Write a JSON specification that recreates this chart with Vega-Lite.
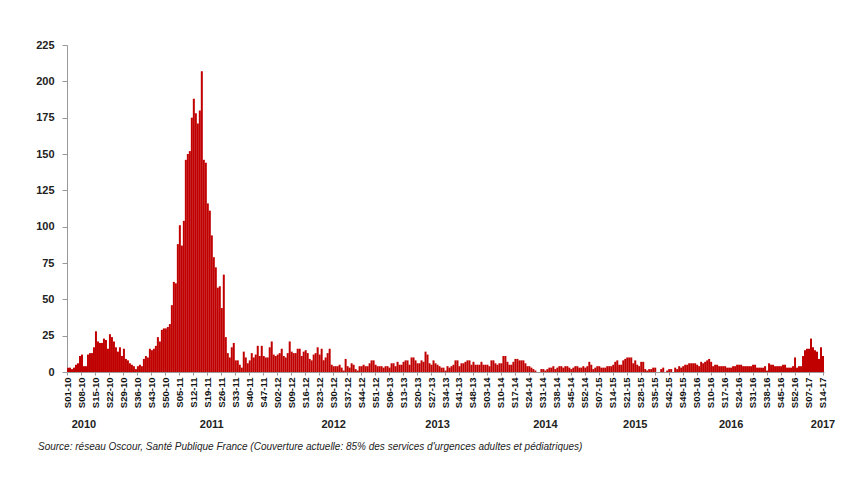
{
  "$schema": "https://vega.github.io/schema/vega-lite/v6.json",
  "autosize": "none",
  "width": 757,
  "height": 327,
  "padding": {"left": 67, "top": 45, "right": 33, "bottom": 122},
  "background": "white",
  "config": {"font": "Liberation Sans", "view": {"stroke": null}},
  "title": {
    "text": "Source: réseau Oscour, Santé Publique France (Couverture actuelle:  85% des services d'urgences adultes et pédiatriques)",
    "orient": "bottom", "anchor": "start", "frame": "group", "dx": -29, "offset": 12,
    "fontSize": 10, "fontStyle": "italic", "fontWeight": "normal", "color": "#222"
  },
  "data": {"values": [
    {"w":"S01-10","v":3},{"w":"S02-10","v":3},{"w":"S03-10","v":2},{"w":"S04-10","v":3},{"w":"S05-10","v":5},{"w":"S06-10","v":6},{"w":"S07-10","v":11},{"w":"S08-10","v":12},{"w":"S09-10","v":4,"yr":"2010"},{"w":"S10-10","v":4},
    {"w":"S11-10","v":12},{"w":"S12-10","v":13},{"w":"S13-10","v":13},{"w":"S14-10","v":17},{"w":"S15-10","v":28},{"w":"S16-10","v":21},{"w":"S17-10","v":20},{"w":"S18-10","v":20},{"w":"S19-10","v":23},{"w":"S20-10","v":22},
    {"w":"S21-10","v":16},{"w":"S22-10","v":26},{"w":"S23-10","v":24},{"w":"S24-10","v":21},{"w":"S25-10","v":17},{"w":"S26-10","v":14},{"w":"S27-10","v":17},{"w":"S28-10","v":11},{"w":"S29-10","v":16},{"w":"S30-10","v":9},
    {"w":"S31-10","v":8},{"w":"S32-10","v":6},{"w":"S33-10","v":5},{"w":"S34-10","v":4},{"w":"S35-10","v":2},{"w":"S36-10","v":4},{"w":"S37-10","v":5},{"w":"S38-10","v":4},{"w":"S39-10","v":9},{"w":"S40-10","v":11},
    {"w":"S41-10","v":10},{"w":"S42-10","v":16},{"w":"S43-10","v":15},{"w":"S44-10","v":16},{"w":"S45-10","v":18},{"w":"S46-10","v":24},{"w":"S47-10","v":21},{"w":"S48-10","v":29},{"w":"S49-10","v":30},{"w":"S50-10","v":30},
    {"w":"S51-10","v":31},{"w":"S52-10","v":33},
    {"w":"S01-11","v":46},{"w":"S02-11","v":62},{"w":"S03-11","v":61},{"w":"S04-11","v":88},{"w":"S05-11","v":101},{"w":"S06-11","v":87},{"w":"S07-11","v":104},{"w":"S08-11","v":146},{"w":"S09-11","v":150},{"w":"S10-11","v":152},
    {"w":"S11-11","v":175},{"w":"S12-11","v":188},{"w":"S13-11","v":178},{"w":"S14-11","v":171},{"w":"S15-11","v":180},{"w":"S16-11","v":207},{"w":"S17-11","v":146},{"w":"S18-11","v":144},{"w":"S19-11","v":116},{"w":"S20-11","v":111},
    {"w":"S21-11","v":94,"yr":"2011"},{"w":"S22-11","v":79},{"w":"S23-11","v":72},{"w":"S24-11","v":58},{"w":"S25-11","v":59},{"w":"S26-11","v":44},{"w":"S27-11","v":67},{"w":"S28-11","v":24},{"w":"S29-11","v":13},{"w":"S30-11","v":10},
    {"w":"S31-11","v":17},{"w":"S32-11","v":20},{"w":"S33-11","v":8},{"w":"S34-11","v":8},{"w":"S35-11","v":5},{"w":"S36-11","v":3},{"w":"S37-11","v":14},{"w":"S38-11","v":10},{"w":"S39-11","v":6},{"w":"S40-11","v":8},
    {"w":"S41-11","v":13},{"w":"S42-11","v":10},{"w":"S43-11","v":12},{"w":"S44-11","v":18},{"w":"S45-11","v":11},{"w":"S46-11","v":18},{"w":"S47-11","v":11},{"w":"S48-11","v":10},{"w":"S49-11","v":10},{"w":"S50-11","v":17},
    {"w":"S51-11","v":21},{"w":"S52-11","v":12},
    {"w":"S01-12","v":11},{"w":"S02-12","v":12},{"w":"S03-12","v":13},{"w":"S04-12","v":16},{"w":"S05-12","v":11},{"w":"S06-12","v":10},{"w":"S07-12","v":13},{"w":"S08-12","v":21},{"w":"S09-12","v":14},{"w":"S10-12","v":13},
    {"w":"S11-12","v":13},{"w":"S12-12","v":16},{"w":"S13-12","v":16},{"w":"S14-12","v":11},{"w":"S15-12","v":14},{"w":"S16-12","v":15},{"w":"S17-12","v":13},{"w":"S18-12","v":9},{"w":"S19-12","v":8},{"w":"S20-12","v":12},
    {"w":"S21-12","v":13},{"w":"S22-12","v":17},{"w":"S23-12","v":12},{"w":"S24-12","v":16},{"w":"S25-12","v":8},{"w":"S26-12","v":10},{"w":"S27-12","v":13},{"w":"S28-12","v":16},{"w":"S29-12","v":5},{"w":"S30-12","v":4,"yr":"2012"},
    {"w":"S31-12","v":4},{"w":"S32-12","v":4},{"w":"S33-12","v":5},{"w":"S34-12","v":3},{"w":"S35-12","v":1},{"w":"S36-12","v":9},{"w":"S37-12","v":4},{"w":"S38-12","v":3},{"w":"S39-12","v":6},{"w":"S40-12","v":5},
    {"w":"S41-12","v":2},{"w":"S42-12","v":1},{"w":"S43-12","v":4},{"w":"S44-12","v":4},{"w":"S45-12","v":5},{"w":"S46-12","v":4},{"w":"S47-12","v":4},{"w":"S48-12","v":6},{"w":"S49-12","v":8},{"w":"S50-12","v":8},
    {"w":"S51-12","v":5},{"w":"S52-12","v":4},
    {"w":"S01-13","v":4},{"w":"S02-13","v":4},{"w":"S03-13","v":3},{"w":"S04-13","v":4},{"w":"S05-13","v":4},{"w":"S06-13","v":3},{"w":"S07-13","v":6},{"w":"S08-13","v":6},{"w":"S09-13","v":4},{"w":"S10-13","v":7},
    {"w":"S11-13","v":5},{"w":"S12-13","v":5},{"w":"S13-13","v":7},{"w":"S14-13","v":8},{"w":"S15-13","v":8},{"w":"S16-13","v":5},{"w":"S17-13","v":10},{"w":"S18-13","v":10},{"w":"S19-13","v":8},{"w":"S20-13","v":6},
    {"w":"S21-13","v":6},{"w":"S22-13","v":8},{"w":"S23-13","v":7},{"w":"S24-13","v":14},{"w":"S25-13","v":12},{"w":"S26-13","v":6},{"w":"S27-13","v":5},{"w":"S28-13","v":8},{"w":"S29-13","v":6},{"w":"S30-13","v":5,"yr":"2013"},
    {"w":"S31-13","v":4},{"w":"S32-13","v":3},{"w":"S33-13","v":3},{"w":"S34-13","v":1},{"w":"S35-13","v":4},{"w":"S36-13","v":3},{"w":"S37-13","v":4},{"w":"S38-13","v":5},{"w":"S39-13","v":8},{"w":"S40-13","v":8},
    {"w":"S41-13","v":4},{"w":"S42-13","v":6},{"w":"S43-13","v":6},{"w":"S44-13","v":7},{"w":"S45-13","v":8},{"w":"S46-13","v":8},{"w":"S47-13","v":5},{"w":"S48-13","v":7},{"w":"S49-13","v":5},{"w":"S50-13","v":5},
    {"w":"S51-13","v":5},{"w":"S52-13","v":7},
    {"w":"S01-14","v":5},{"w":"S02-14","v":5},{"w":"S03-14","v":5},{"w":"S04-14","v":4},{"w":"S05-14","v":8},{"w":"S06-14","v":8},{"w":"S07-14","v":6},{"w":"S08-14","v":5},{"w":"S09-14","v":6},{"w":"S10-14","v":6},
    {"w":"S11-14","v":11},{"w":"S12-14","v":11},{"w":"S13-14","v":7},{"w":"S14-14","v":5},{"w":"S15-14","v":5},{"w":"S16-14","v":7},{"w":"S17-14","v":9},{"w":"S18-14","v":9},{"w":"S19-14","v":8},{"w":"S20-14","v":8},
    {"w":"S21-14","v":8},{"w":"S22-14","v":6},{"w":"S23-14","v":4},{"w":"S24-14","v":4},{"w":"S25-14","v":3},{"w":"S26-14","v":2},{"w":"S27-14","v":1},{"w":"S28-14","v":0},{"w":"S29-14","v":0},{"w":"S30-14","v":2},
    {"w":"S31-14","v":2},{"w":"S32-14","v":1,"yr":"2014"},{"w":"S33-14","v":2},{"w":"S34-14","v":3},{"w":"S35-14","v":3},{"w":"S36-14","v":4},{"w":"S37-14","v":2},{"w":"S38-14","v":3},{"w":"S39-14","v":4},{"w":"S40-14","v":4},
    {"w":"S41-14","v":3},{"w":"S42-14","v":4},{"w":"S43-14","v":4},{"w":"S44-14","v":3},{"w":"S45-14","v":2},{"w":"S46-14","v":3},{"w":"S47-14","v":4},{"w":"S48-14","v":4},{"w":"S49-14","v":3},{"w":"S50-14","v":3},
    {"w":"S51-14","v":4},{"w":"S52-14","v":3},
    {"w":"S01-15","v":4},{"w":"S02-15","v":7},{"w":"S03-15","v":5},{"w":"S04-15","v":2},{"w":"S05-15","v":3},{"w":"S06-15","v":4},{"w":"S07-15","v":4},{"w":"S08-15","v":3},{"w":"S09-15","v":3},{"w":"S10-15","v":3},
    {"w":"S11-15","v":4},{"w":"S12-15","v":4},{"w":"S13-15","v":4},{"w":"S14-15","v":5},{"w":"S15-15","v":7},{"w":"S16-15","v":8},{"w":"S17-15","v":5},{"w":"S18-15","v":5},{"w":"S19-15","v":8},{"w":"S20-15","v":9},
    {"w":"S21-15","v":10},{"w":"S22-15","v":10},{"w":"S23-15","v":10},{"w":"S24-15","v":6},{"w":"S25-15","v":8,"yr":"2015"},{"w":"S26-15","v":5},{"w":"S27-15","v":4},{"w":"S28-15","v":7},{"w":"S29-15","v":7},{"w":"S30-15","v":2},
    {"w":"S31-15","v":1},{"w":"S32-15","v":2},{"w":"S33-15","v":2},{"w":"S34-15","v":3},{"w":"S35-15","v":3},{"w":"S36-15","v":0},{"w":"S37-15","v":0},{"w":"S38-15","v":2},{"w":"S39-15","v":3},{"w":"S40-15","v":0},
    {"w":"S41-15","v":1},{"w":"S42-15","v":2},{"w":"S43-15","v":2},{"w":"S44-15","v":0},{"w":"S45-15","v":3},{"w":"S46-15","v":2},{"w":"S47-15","v":4},{"w":"S48-15","v":3},{"w":"S49-15","v":4},{"w":"S50-15","v":5},
    {"w":"S51-15","v":5},{"w":"S52-15","v":6},{"w":"S53-15","v":6},
    {"w":"S01-16","v":6},{"w":"S02-16","v":6},{"w":"S03-16","v":5},{"w":"S04-16","v":4},{"w":"S05-16","v":7},{"w":"S06-16","v":6},{"w":"S07-16","v":7},{"w":"S08-16","v":8},{"w":"S09-16","v":9},{"w":"S10-16","v":7},
    {"w":"S11-16","v":4},{"w":"S12-16","v":5},{"w":"S13-16","v":5},{"w":"S14-16","v":4},{"w":"S15-16","v":4},{"w":"S16-16","v":4},{"w":"S17-16","v":4},{"w":"S18-16","v":3},{"w":"S19-16","v":3},{"w":"S20-16","v":3,"yr":"2016"},
    {"w":"S21-16","v":4},{"w":"S22-16","v":4},{"w":"S23-16","v":5},{"w":"S24-16","v":5},{"w":"S25-16","v":5},{"w":"S26-16","v":4},{"w":"S27-16","v":4},{"w":"S28-16","v":4},{"w":"S29-16","v":4},{"w":"S30-16","v":4},
    {"w":"S31-16","v":5},{"w":"S32-16","v":5},{"w":"S33-16","v":3},{"w":"S34-16","v":3},{"w":"S35-16","v":3},{"w":"S36-16","v":3},{"w":"S37-16","v":4},{"w":"S38-16","v":1},{"w":"S39-16","v":6},{"w":"S40-16","v":5},
    {"w":"S41-16","v":5},{"w":"S42-16","v":4},{"w":"S43-16","v":4},{"w":"S44-16","v":4},{"w":"S45-16","v":4},{"w":"S46-16","v":5},{"w":"S47-16","v":5},{"w":"S48-16","v":3},{"w":"S49-16","v":3},{"w":"S50-16","v":3},
    {"w":"S51-16","v":4},{"w":"S52-16","v":10},
    {"w":"S01-17","v":3},{"w":"S02-17","v":4},{"w":"S03-17","v":4},{"w":"S04-17","v":11},{"w":"S05-17","v":15},{"w":"S06-17","v":16},{"w":"S07-17","v":16},{"w":"S08-17","v":23},{"w":"S09-17","v":17},{"w":"S10-17","v":15},
    {"w":"S11-17","v":14},{"w":"S12-17","v":9},{"w":"S13-17","v":17},{"w":"S14-17","v":11,"yr":"2017"}
  ]},
  "encoding": {
    "x": {
      "field": "w", "type": "ordinal", "sort": null,
      "scale": {"paddingInner": 0, "paddingOuter": 0},
      "axis": {
        "title": null,
        "values": ["S01-10","S08-10","S15-10","S22-10","S29-10","S36-10","S43-10","S50-10","S05-11","S12-11","S19-11","S26-11","S33-11","S40-11","S47-11","S02-12","S09-12","S16-12","S23-12","S30-12","S37-12","S44-12","S51-12","S06-13","S13-13","S20-13","S27-13","S34-13","S41-13","S48-13","S03-14","S10-14","S17-14","S24-14","S31-14","S38-14","S45-14","S52-14","S07-15","S14-15","S21-15","S28-15","S35-15","S42-15","S49-15","S03-16","S10-16","S17-16","S24-16","S31-16","S38-16","S45-16","S52-16","S07-17","S14-17"],
        "labelAngle": -90, "labelFontSize": 9.5, "labelFontWeight": "bold", "labelColor": "#111",
        "labelPadding": 2, "labelOverlap": false, "tickSize": 3, "tickColor": "#999", "domainColor": "#999",
        "grid": false
      }
    }
  },
  "layer": [
    {
      "mark": {"type": "bar", "color": "#C00000"},
      "encoding": {
        "y": {
          "field": "v", "type": "quantitative",
          "scale": {"domain": [0, 225], "nice": false},
          "axis": {
            "title": null, "values": [0,25,50,75,100,125,150,175,200,225],
            "labelOverlap": false, "labelFontSize": 11, "labelFontWeight": "bold", "labelColor": "#222",
            "labelPadding": 8, "tickSize": 5, "tickColor": "#999", "domainColor": "#999", "grid": false
          }
        }
      }
    },
    {
      "transform": [{"filter": "datum.yr != null"}],
      "mark": {"type": "text", "dy": 53, "baseline": "middle", "fontSize": 11, "fontWeight": "bold", "color": "#222"},
      "encoding": {
        "y": {
          "datum": 0, "type": "quantitative",
          "axis": {
            "title": null, "values": [0,25,50,75,100,125,150,175,200,225],
            "labelOverlap": false, "labelFontSize": 11, "labelFontWeight": "bold", "labelColor": "#222",
            "labelPadding": 8, "tickSize": 5, "tickColor": "#999", "domainColor": "#999", "grid": false
          }
        },
        "text": {"field": "yr"}
      }
    }
  ]
}
